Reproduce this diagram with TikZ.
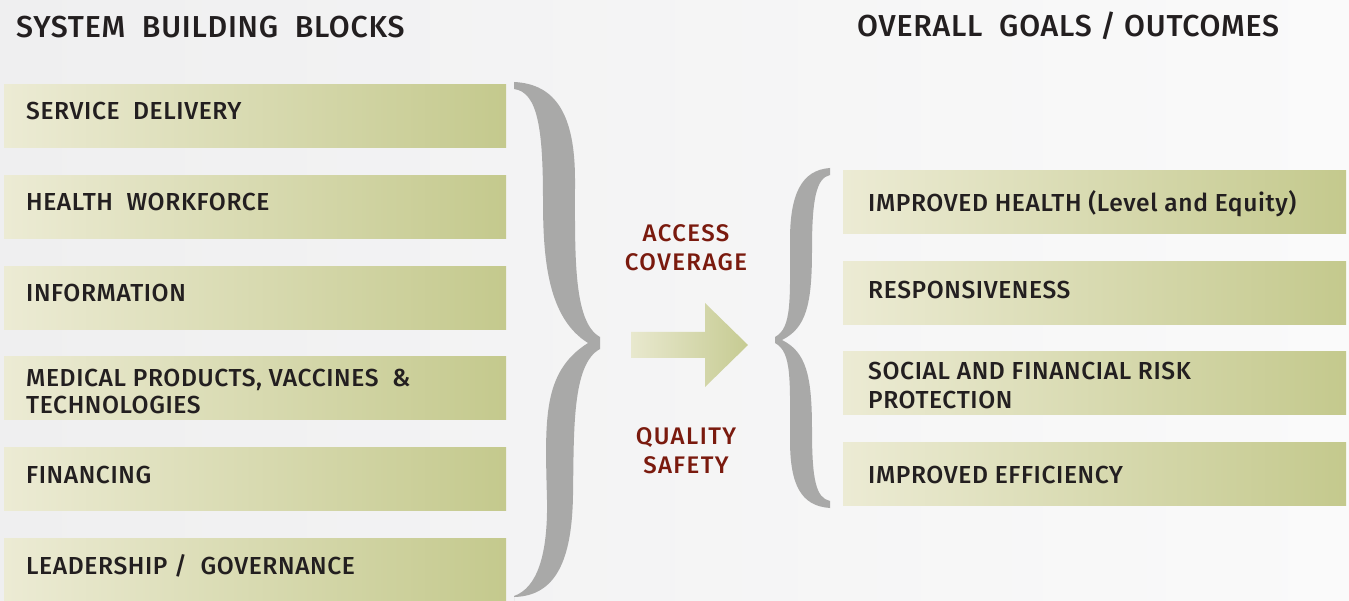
\documentclass[tikz,border=0pt]{standalone}
\usepackage{fontspec}
\setmainfont{Fira Sans}[UprightFont={* Medium}, LetterSpace=2.5]
\newfontfamily\redfont{Fira Sans}[UprightFont={* Medium}, LetterSpace=6]
\definecolor{bgl}{RGB}{239,239,240}
\definecolor{bgr}{RGB}{250,250,250}
\definecolor{boxl}{RGB}{236,235,212}
\definecolor{boxr}{RGB}{196,201,141}
\definecolor{arrl}{RGB}{232,232,206}
\definecolor{arrr}{RGB}{198,203,146}
\definecolor{brace}{RGB}{169,169,168}
\definecolor{ink}{RGB}{35,31,32}
\definecolor{dred}{RGB}{122,26,14}
\tikzset{
  gbox/.style={draw=none, left color=boxl, right color=boxr, minimum width=502pt, minimum height=63pt, inner sep=0pt, anchor=north west},
  rbox/.style={gbox, minimum width=503pt},
  btext/.style={anchor=base west, inner sep=0pt, text=ink, align=left, font=\fontsize{24.6}{26}\selectfont},
  ttext/.style={anchor=base west, inner sep=0pt, text=ink, font=\fontsize{30.3}{32}\selectfont},
  qtext/.style={anchor=base, inner sep=0pt, text=dred, font=\redfont\fontsize{24}{29}\selectfont},
  bracefill/.style={fill=brace, draw=none},
}
\begin{document}
\begin{tikzpicture}[x=1pt,y=-1pt]
\useasboundingbox (0,0) rectangle (1349,601);
\shade[left color=bgl, right color=bgr] (0,0) rectangle (1349,601);

% titles
\node[ttext] (t1) at (16,38) {SYSTEM\ \ BUILDING\ \ BLOCKS};
\node[ttext] (t2) at (857,37) {OVERALL\ \ GOALS / OUTCOMES};

% left boxes
\node[gbox] (l1) at (4,84) {};
\node[gbox] (l2) at (4,175) {};
\node[gbox] (l3) at (4,266) {};
\node[gbox] (l4) at (4,356) {};
\node[gbox] (l5) at (4,447) {};
\node[gbox] (l6) at (4,538) {};
\node[btext] (lt1) at (26,120) {SERVICE\ \ DELIVERY};
\node[btext] (lt2) at (26,211) {HEALTH\ \ WORKFORCE};
\node[btext] (lt3) at (26,302) {INFORMATION};
\node[btext] (lt4) at (26,413) {MEDICAL PRODUCTS, VACCINES\ \ \&\\TECHNOLOGIES};
\node[btext] (lt5) at (26,483) {FINANCING};
\node[btext] (lt6) at (26,574) {LEADERSHIP /\ \ GOVERNANCE};

% right boxes
\node[rbox] (r1) at (843,170) {};
\node[rbox] (r2) at (843,261) {};
\node[rbox] (r3) at (843,351) {};
\node[rbox] (r4) at (843,442) {};
\node[btext] (rt1) at (868,212) {IMPROVED HEALTH (Level and Equity)};
\node[btext] (rt2) at (868,299) {RESPONSIVENESS};
\node[btext, font=\fontsize{24.6}{28.5}\selectfont] (rt3) at (868,408) {SOCIAL AND FINANCIAL RISK\\PROTECTION};
\node[btext] (rt4) at (868,483) {IMPROVED EFFICIENCY};

% big brace
\fill[bracefill] (514,82)
  .. controls (556,84) and (575,115) .. (575,180)
  .. controls (575,255) and (573,322) .. (600,337)
  -- (600,349)
  .. controls (572,364) and (574,430) .. (573,495)
  .. controls (572,560) and (556,596) .. (514,597)
  -- (514,601) -- (514,596)
  .. controls (537,588) and (548,555) .. (547,500)
  .. controls (545,420) and (542,372) .. (588,343)
  .. controls (548,318) and (543,260) .. (543,200)
  .. controls (543,130) and (538,92) .. (514,89)
  -- cycle;

% small brace
\fill[bracefill] (830,168)
  .. controls (801,170) and (790,195) .. (790,240)
  .. controls (790,300) and (792,328) .. (775,337)
  -- (775,343)
  .. controls (792,352) and (790,380) .. (790,440)
  .. controls (790,485) and (801,506) .. (830,508)
  -- (830,501)
  .. controls (816,498) and (812,480) .. (812,430)
  .. controls (812,375) and (806,352) .. (782,340)
  .. controls (806,328) and (812,305) .. (812,250)
  .. controls (812,200) and (816,178) .. (830,175)
  -- cycle;

% arrow
\shade[left color=arrl, right color=arrr] (631,332) -- (705,332) -- (705,303) -- (748,345) -- (705,387) -- (705,358) -- (631,358) -- cycle;

% labels
\node[qtext] (q1) at (686,242) {ACCESS};
\node[qtext] (q2) at (686,271) {COVERAGE};
\node[qtext] (q3) at (686,444) {QUALITY};
\node[qtext] (q4) at (686,473) {SAFETY};
\end{tikzpicture}
\end{document}
